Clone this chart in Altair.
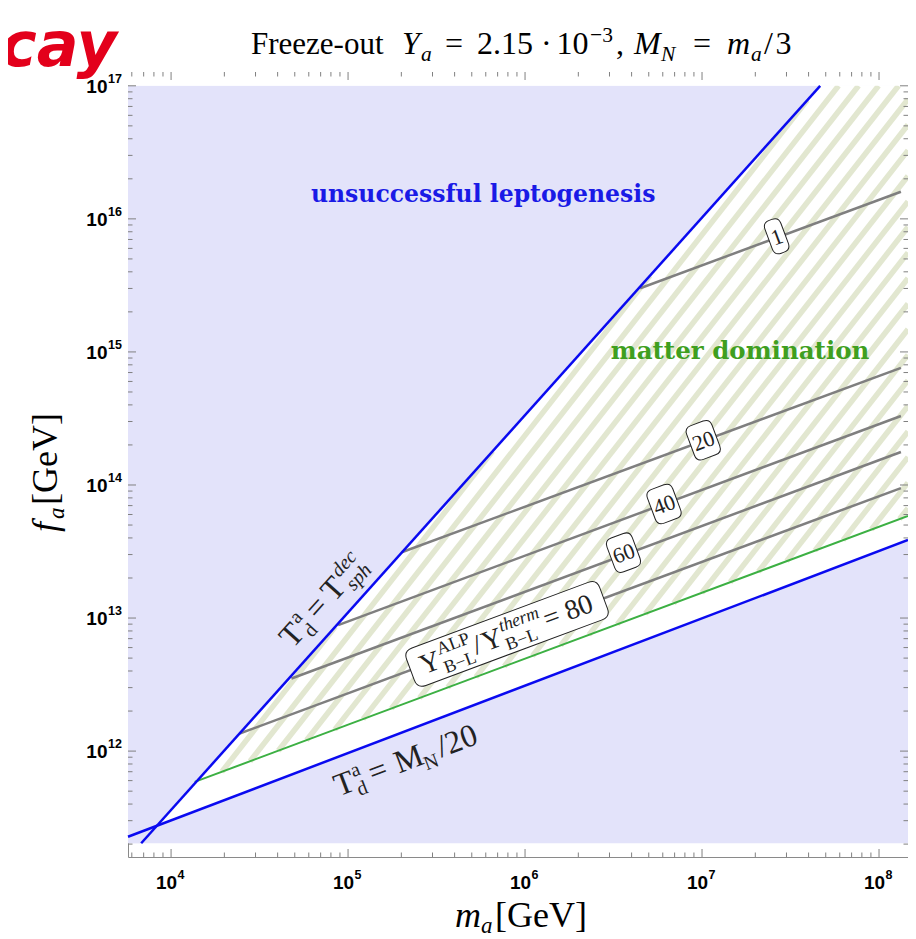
import altair as alt
import numpy as np
import pandas as pd

SERIF = "Liberation Serif"
SANS = "Liberation Sans"
W, H = 780, 785

# ---------------- values (GeV) ----------------
x_domain = [5.71e3, 1.458e8]
y_domain = [1.60e11, 1.27e17]
shade_fa = [2.03e11, 1.0e17]

# boundary lines (two end points each)
sph_ma = [6.78e3, 4.65e7]          # T_d^a = T_sph^dec
sph_fa = [2.03e11, 1.0e17]
mn_ma = [5.71e3, 1.458e8]          # T_d^a = M_N/20
mn_fa = [2.27e11, 3.86e13]
md_ma = [1.36e4, 1.458e8]          # onset of matter domination
md_fa = [5.87e11, 5.86e13]

# contour lines  Y^ALP / Y^therm
cont_level = ["1", "20", "40", "60", "80"]
cont_ma0 = [4.47e6, 2.01e5, 8.79e4, 4.79e4, 2.44e4]
cont_fa0 = [3.01e15, 3.12e13, 8.85e12, 3.51e12, 1.355e12]
cont_ma1 = [1.33e8, 1.33e8, 1.33e8, 1.33e8, 1.33e8]
cont_fa1 = [1.60e16, 7.59e14, 3.30e14, 1.77e14, 9.48e13]

# contour labels
lab_text = ["1", "20", "40", "60"]
lab_ma = [2.64e7, 1.016e7, 6.10e6, 3.60e6]
lab_fa = [7.4e15, 2.17e14, 7.2e13, 3.1e13]
lab_w = [17, 27, 27, 27]
lab_h = [35, 36, 36, 36]
big_ma, big_fa = 7.91e5, 7.6e12

# region labels
region_text = ["unsuccessful leptogenesis", "matter domination"]
region_ma = [5.80e5, 1.64e7]
region_fa = [1.51e16, 1.0e15]
region_col = ["#1a1ae6", "#3f9f1f"]
region_size = [23.5, 24.5]

# line labels (anchor = centre of the "=" sign)
tsph_ma, tsph_fa = 6.71e4, 1.183e13
tmn_ma, tmn_fa = 1.483e5, 6.98e11

# ticks
x_major = [1e4, 1e5, 1e6, 1e7, 1e8]
x_exp = ["4", "5", "6", "7", "8"]
y_major = [1e12, 1e13, 1e14, 1e15, 1e16, 1e17]
y_exp = ["12", "13", "14", "15", "16", "17"]
x_minor = [k * 10.0 ** e for e in range(3, 9) for k in range(2, 10)
           if x_domain[0] <= k * 10.0 ** e <= x_domain[1]]
y_minor = [k * 10.0 ** e for e in range(11, 17) for k in range(2, 10)
           if y_domain[0] <= k * 10.0 ** e <= y_domain[1]]

# ---------------- styles ----------------
LAV = "#e3e3fa"
HATCH = "#e2e7d0"
BLUE = "#0a0af0"
GREEN = "#3cb043"
GRAY = "#7f7f7f"
TICK = "#808080"

XS = alt.Scale(type="log", domain=x_domain, nice=False)
YS = alt.Scale(type="log", domain=y_domain, nice=False)


def X(f):
    return alt.X(f"{f}:Q", scale=XS, axis=None)


def Y(f):
    return alt.Y(f"{f}:Q", scale=YS, axis=None)


# ---------------- geometry in log space ----------------
L = np.log10


def coef(mx, my):
    lx, ly = L(np.array(mx)), L(np.array(my))
    s = (ly[1] - ly[0]) / (lx[1] - lx[0])
    return s, ly[0] - s * lx[0]


bs, bi = coef(sph_ma, sph_fa)
ns, ni = coef(mn_ma, mn_fa)
gs, gi = coef(md_ma, md_fa)
xL, xR = L(x_domain[0]), L(x_domain[1])
yB, yT = L(shade_fa[0]), L(shade_fa[1])

xp = (ni - bi) / (bs - ns)          # blue / blue crossing
xt = (yT - bi) / bs                 # steep blue line reaches the top
xb = (yB - bi) / bs                 # steep blue line leaves the bottom
xg = (gi - bi) / (bs - gs)          # green starts on the steep blue line

white_df = pd.DataFrame({
    "ma": 10 ** np.array([xp, xt, xR]),
    "lo": 10 ** np.array([ni + ns * xp, ni + ns * xt, ni + ns * xR]),
    "hi": 10 ** np.array([bi + bs * xp, yT, yT]),
})
cover_df = pd.DataFrame({
    "ma": 10 ** np.array([xL, xb, xt]),
    "lo": 10 ** np.array([yB, yB, yT]),
    "hi": 10 ** np.array([yT, yT, yT]),
})

# hatch texture (diagonal stripes) clipped to the matter-domination region
ss = 1.70
step = ss * 20 / 177
verts = [(xg, bi + bs * xg), (xt, yT), (xR, yT), (xR, gi + gs * xR)]
cs = [vy - ss * vx for vx, vy in verts]
rows = []
c = min(cs) + step * 0.3
while c < max(cs) + step:
    lo = (gi - c) / (ss - gs)
    hi = min((bi - c) / (ss - bs), (yT - c) / ss, xR)
    if hi > lo:
        rows.append({"x0": 10 ** lo, "x1": 10 ** hi,
                     "y0": 10 ** (c + ss * lo), "y1": 10 ** (c + ss * hi)})
    c += step
stripe_df = pd.DataFrame(rows)

layers = []

# lavender background
bg = pd.DataFrame({"x0": [x_domain[0]], "x1": [x_domain[1]],
                   "y0": [shade_fa[0]], "y1": [shade_fa[1]]})
layers.append(alt.Chart(bg).mark_rect(color=LAV).encode(
    x=X("x0"), x2="x1:Q", y=Y("y0"), y2="y1:Q"))
layers.append(alt.Chart(white_df).mark_area(color="white", opacity=1).encode(
    x=X("ma"), y=Y("lo"), y2="hi:Q"))
layers.append(alt.Chart(stripe_df).mark_rule(color=HATCH, strokeWidth=5.5).encode(
    x=X("x0"), x2="x1:Q", y=Y("y0"), y2="y1:Q"))
layers.append(alt.Chart(cover_df).mark_area(color=LAV, opacity=1).encode(
    x=X("ma"), y=Y("lo"), y2="hi:Q"))
topc = pd.DataFrame({"x0": [x_domain[0]], "x1": [x_domain[1]],
                     "y0": [shade_fa[1]], "y1": [y_domain[1]]})
layers.append(alt.Chart(topc).mark_rect(color="white").encode(
    x=X("x0"), x2="x1:Q", y=Y("y0"), y2="y1:Q"))

# contour lines
cdf = pd.DataFrame({
    "lev": cont_level * 2,
    "ma": cont_ma0 + cont_ma1,
    "fa": cont_fa0 + cont_fa1,
})
layers.append(alt.Chart(cdf).mark_line(color=GRAY, strokeWidth=2.5).encode(
    x=X("ma"), y=Y("fa"), detail="lev:N"))
# green and blue boundaries
gdf = pd.DataFrame({"ma": md_ma, "fa": md_fa})
layers.append(alt.Chart(gdf).mark_line(color=GREEN, strokeWidth=2).encode(
    x=X("ma"), y=Y("fa")))
bdf = pd.DataFrame({"ma": sph_ma + mn_ma, "fa": sph_fa + mn_fa,
                    "id": ["sph", "sph", "mn", "mn"]})
layers.append(alt.Chart(bdf).mark_line(color=BLUE, strokeWidth=2.5).encode(
    x=X("ma"), y=Y("fa"), detail="id:N"))


def rrect(w, h, r):
    a, b = w / 2, h / 2
    return (f"M{-a + r},{-b} L{a - r},{-b} Q{a},{-b} {a},{-b + r} L{a},{b - r} "
            f"Q{a},{b} {a - r},{b} L{-a + r},{b} Q{-a},{b} {-a},{b - r} "
            f"L{-a},{-b + r} Q{-a},{-b} {-a + r},{-b} Z")


ANG_C = 339.6
for t, m, f, w, h in zip(lab_text, lab_ma, lab_fa, lab_w, lab_h):
    d = pd.DataFrame({"ma": [m], "fa": [f], "t": [t]})
    layers.append(alt.Chart(d).mark_point(
        shape=rrect(w, h, 7), size=4, filled=True, fill="white", stroke="#222",
        strokeWidth=1, opacity=1, angle=ANG_C).encode(x=X("ma"), y=Y("fa")))
    layers.append(alt.Chart(d).mark_text(
        font=SERIF, fontSize=22, angle=ANG_C, baseline="middle", dy=1,
        color="#222").encode(x=X("ma"), y=Y("fa"), text="t:N"))

bigd = pd.DataFrame({"ma": [big_ma], "fa": [big_fa]})
layers.append(alt.Chart(bigd).mark_point(
    shape=rrect(206, 40, 9), size=4, filled=True, fill="white", stroke="#222",
    strokeWidth=1, opacity=1, angle=ANG_C).encode(x=X("ma"), y=Y("fa")))


def rot_piece(m, f, text, dx, dy, size, angle, italic=False, align="center",
              color="#222"):
    d = pd.DataFrame({"ma": [m], "fa": [f], "t": [text]})
    return alt.Chart(d).mark_text(
        font=SERIF, fontSize=size, angle=angle, dx=dx, dy=dy, align=align,
        baseline="alphabetic", fontStyle="italic" if italic else "normal",
        color=color).encode(x=X("ma"), y=Y("fa"), text="t:N")


big_pieces = [("Y", -82, 9, 28, False), ("ALP", -54, -4, 18, False),
              ("B\u2212L", -54, 16, 18, False), ("/", -32, 9, 28, False),
              ("Y", -16, 9, 28, False), ("therm", 16, -4, 18, True),
              ("B\u2212L", 12, 16, 18, False), ("= 80", 65, 9, 28, False)]
for t, dx, dy, s, it in big_pieces:
    layers.append(rot_piece(big_ma, big_fa, t, dx, dy, s, ANG_C, it))

ANG_S = 311.9
tsph_pieces = [("T", -37, 9, 32, False), ("a", -21, -4, 20, False),
               ("d", -21, 16, 20, False), ("=", 0, 9, 32, False),
               ("T", 25, 9, 32, False), ("dec", 51, -4, 20, True),
               ("sph", 51, 16, 20, True)]
for t, dx, dy, s, it in tsph_pieces:
    layers.append(rot_piece(tsph_ma, tsph_fa, t, dx, dy, s, ANG_S, it))

ANG_M = 339.2
tmn_pieces = [("T", -36, 9, 32, False), ("a", -21, -4, 20, False),
              ("d", -21, 16, 20, False), ("=", 0, 9, 32, False),
              ("M", 33, 9, 32, False), ("N", 53, 16, 20, False)]
for t, dx, dy, s, it in tmn_pieces:
    layers.append(rot_piece(tmn_ma, tmn_fa, t, dx, dy, s, ANG_M, it))
layers.append(rot_piece(tmn_ma, tmn_fa, "/20", 64, 9, 32, ANG_M, False, "left"))

# region labels
for t, m, f, col, s in zip(region_text, region_ma, region_fa, region_col,
                           region_size):
    d = pd.DataFrame({"ma": [m], "fa": [f], "t": [t]})
    layers.append(alt.Chart(d).mark_text(
        font="DejaVu Serif", fontWeight="bold", fontSize=s, color=col,
        baseline="middle").encode(x=X("ma"), y=Y("fa"), text="t:N"))


# frame ticks (inward)
def xticks(vals, ln):
    d = pd.DataFrame({"v": vals})
    b = alt.Chart(d).mark_rule(color=TICK, strokeWidth=1)
    return [b.encode(x=X("v"), y=alt.value(H), y2=alt.value(H - ln)),
            b.encode(x=X("v"), y=alt.value(0), y2=alt.value(ln))]


def yticks(vals, ln):
    d = pd.DataFrame({"v": vals})
    b = alt.Chart(d).mark_rule(color=TICK, strokeWidth=1)
    return [b.encode(y=Y("v"), x=alt.value(0), x2=alt.value(ln)),
            b.encode(y=Y("v"), x=alt.value(W), x2=alt.value(W - ln))]


layers += xticks(x_major, 8) + xticks(x_minor, 4.5)
layers += yticks(y_major, 8) + yticks(y_minor, 4.5)

# tick labels
xl = pd.DataFrame({"v": x_major, "e": x_exp, "t": ["10"] * 5})
layers.append(alt.Chart(xl).mark_text(
    font=SANS, fontWeight="bold", fontSize=19, align="right", baseline="middle",
    dx=6, color="black").encode(x=X("v"), y=alt.value(H + 26), text="t:N"))
layers.append(alt.Chart(xl).mark_text(
    font=SANS, fontWeight="bold", fontSize=12.5, align="left", baseline="middle",
    dx=6.5, color="black").encode(x=X("v"), y=alt.value(H + 18), text="e:N"))
yl = pd.DataFrame({"v": y_major, "e": y_exp, "t": ["10"] * 6})
layers.append(alt.Chart(yl).mark_text(
    font=SANS, fontWeight="bold", fontSize=19, align="right", baseline="middle",
    dy=1, color="black").encode(y=Y("v"), x=alt.value(-20.5), text="t:N"))
layers.append(alt.Chart(yl).mark_text(
    font=SANS, fontWeight="bold", fontSize=12.5, align="left", baseline="middle",
    dy=-7, color="black").encode(y=Y("v"), x=alt.value(-20), text="e:N"))


def px_piece(x, y, text, size, italic=False, align="left", angle=0,
             color="black", font=SERIF, weight="normal"):
    d = pd.DataFrame({"t": [text]})
    return alt.Chart(d).mark_text(
        font=font, fontSize=size, fontStyle="italic" if italic else "normal",
        fontWeight=weight, align=align, baseline="alphabetic", angle=angle,
        color=color).encode(x=alt.value(x), y=alt.value(y), text="t:N")


# title
TB = -18
title_pieces = [("Freeze-out", 123, 0, 31, False), ("Y", 274, 0, 32, True),
                ("a", 293, 7, 21.5, True), ("=", 317, 0, 32, False),
                ("2.15", 349, 0, 32, False), ("\u00b7", 413, 0, 32, False),
                ("10", 428.5, 0, 32, False), ("\u22123", 462, -12, 21.5, False),
                (",", 488, 0, 32, False), ("M", 506, 0, 32, True),
                ("N", 533, 7, 21.5, True), ("=", 565, 0, 32, False),
                ("m", 599, 0, 32, True), ("a", 623, 7, 21.5, True),
                ("/", 636, 0, 32, False), ("3", 647.5, 0, 32, False)]
for t, x, dy, s, it in title_pieces:
    layers.append(px_piece(x, TB + dy, t, s, it))

# axis titles
layers.append(px_piece(-71, 460, "f", 36, True, angle=270))
layers.append(px_piece(-64, 447, "a", 23, True, angle=270))
layers.append(px_piece(-71, 433, "[GeV]", 36, False, angle=270))
layers.append(px_piece(327, 855, "m", 36, True))
layers.append(px_piece(353, 861, "a", 23, True))
layers.append(px_piece(367, 855, "[GeV]", 36, False))

# slide fragment
layers.append(px_piece(-11, -6, "cay", 62, True, align="right", color="#e3001b",
                       font="DejaVu Sans", weight="bold"))

chart = alt.layer(*layers).properties(
    width=W, height=H, background="white",
    autosize=alt.AutoSizeParams(type="none"),
    padding={"left": 120, "top": 64, "right": 0, "bottom": 80},
).configure_view(stroke="#8a8a8a", strokeWidth=1)

chart.save("out.html", embed_options={"renderer": "svg", "actions": False})
